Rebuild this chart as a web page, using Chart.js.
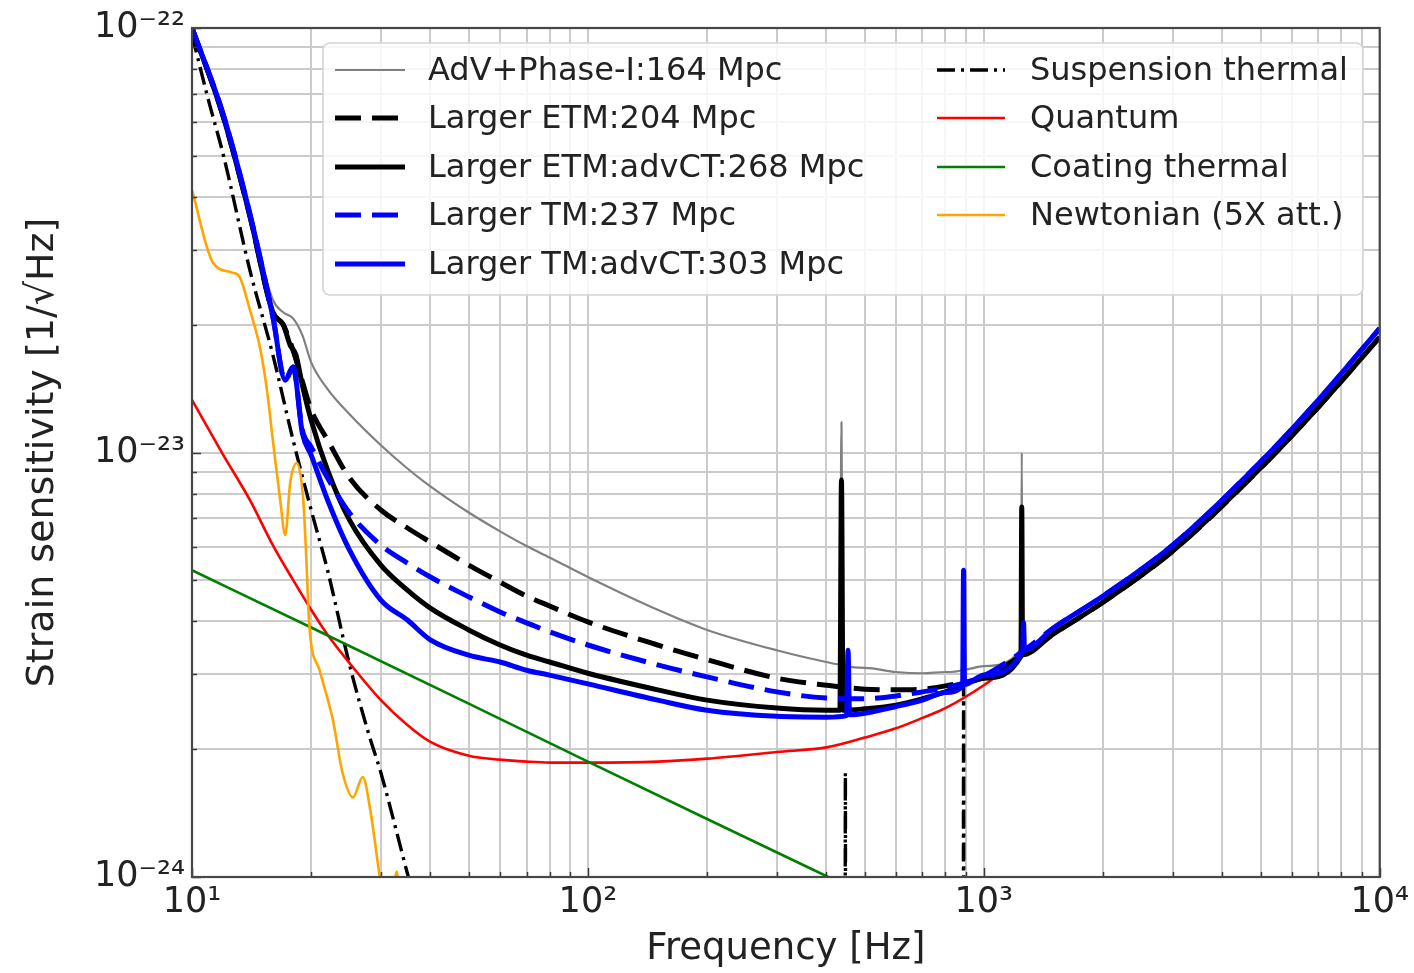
<!DOCTYPE html>
<html>
<head>
<meta charset="utf-8">
<title>Strain sensitivity</title>
<script src="https://cdn.jsdelivr.net/npm/chart.js@4.4.1/dist/chart.umd.min.js"></script>
<style>
html,body{margin:0;padding:0;background:#ffffff;}
#box{position:relative;width:1414px;height:973px;}
canvas{display:block;}
</style>
</head>
<body>
<div id="box"><canvas id="chart" width="1414" height="973"></canvas></div>
<script>
// ---------- text ----------
const seriesLabels = [
  'AdV+Phase-I:164 Mpc', 'Larger ETM:204 Mpc', 'Larger ETM:advCT:268 Mpc',
  'Larger TM:237 Mpc', 'Larger TM:advCT:303 Mpc',
  'Suspension thermal', 'Quantum', 'Coating thermal', 'Newtonian (5X att.)'
];
const xMajorTicks = [10, 100, 1000, 10000];
const xTickLabels = ['10¹', '10²', '10³', '10⁴'];
const yMajorTicks = [1e-24, 1e-23, 1e-22];
const yTickLabels = ['10⁻²⁴', '10⁻²³', '10⁻²²'];
const xTitle = 'Frequency [Hz]';
const yTitle = 'Strain sensitivity [1/√Hz]';

// ---------- data (frequency in Hz, strain in 1/sqrt(Hz)) ----------
const freqAdv = [10, 12, 14, 16, 17, 18, 19, 20, 22, 25, 30, 35, 40, 50, 60, 70, 80, 100, 150, 200, 300, 400, 433, 437, 441, 500, 600, 700, 800, 880, 885, 890, 1000, 1241, 1247, 1253, 1500, 2000, 3000, 5000, 7000, 10000];
const valAdv = [1.00e-22, 6.17e-23, 3.61e-23, 2.29e-23, 2.14e-23, 2.07e-23, 1.89e-23, 1.63e-23, 1.41e-23, 1.23e-23, 1.04e-23, 9.17e-24, 8.32e-24, 7.22e-24, 6.52e-24, 6.02e-24, 5.66e-24, 5.09e-24, 4.26e-24, 3.82e-24, 3.42e-24, 3.21e-24, 3.17e-24, 1.18e-23, 3.16e-24, 3.11e-24, 3.04e-24, 3.02e-24, 3.04e-24, 3.07e-24, 3.62e-24, 3.08e-24, 3.14e-24, 3.44e-24, 1.00e-23, 3.46e-24, 3.76e-24, 4.44e-24, 5.86e-24, 9.19e-24, 1.28e-23, 1.87e-23];

const freqEtm = [10, 12, 14, 16, 17, 18, 19, 20, 22, 25, 30, 35, 40, 50, 60, 70, 80, 100, 150, 200, 300, 400, 500, 600, 700, 800, 1000, 1241, 1500, 2000, 3000, 5000, 7000, 10000];
const valEtm = [1.00e-22, 6.17e-23, 3.61e-23, 2.14e-23, 2.00e-23, 1.74e-23, 1.47e-23, 1.26e-23, 1.07e-23, 8.71e-24, 7.32e-24, 6.64e-24, 6.15e-24, 5.43e-24, 4.95e-24, 4.59e-24, 4.35e-24, 3.99e-24, 3.52e-24, 3.25e-24, 2.94e-24, 2.83e-24, 2.77e-24, 2.76e-24, 2.77e-24, 2.82e-24, 2.95e-24, 3.32e-24, 3.74e-24, 4.44e-24, 5.86e-24, 9.19e-24, 1.28e-23, 1.87e-23];

const freqEtmCT = [10, 12, 14, 16, 17, 17.7, 18.3, 19, 20, 22, 25, 30, 35, 40, 50, 60, 70, 80, 100, 150, 200, 300, 400, 433, 437, 441, 500, 600, 700, 800, 1000, 1241, 1247, 1253, 1500, 2000, 3000, 5000, 7000, 10000];
const valEtmCT = [1.00e-22, 6.17e-23, 3.61e-23, 2.14e-23, 2.00e-23, 1.79e-23, 1.70e-23, 1.44e-23, 1.19e-23, 9.09e-24, 6.93e-24, 5.43e-24, 4.74e-24, 4.30e-24, 3.82e-24, 3.52e-24, 3.33e-24, 3.21e-24, 3.02e-24, 2.76e-24, 2.61e-24, 2.50e-24, 2.47e-24, 2.47e-24, 8.61e-24, 2.47e-24, 2.49e-24, 2.54e-24, 2.63e-24, 2.73e-24, 2.94e-24, 3.31e-24, 7.44e-24, 3.34e-24, 3.74e-24, 4.44e-24, 5.86e-24, 9.19e-24, 1.28e-23, 1.87e-23];

const freqTm = [10, 12, 14, 16, 17.2, 18, 19, 20, 22, 25, 30, 35, 40, 50, 60, 70, 80, 100, 150, 200, 300, 400, 500, 600, 700, 800, 1000, 1253, 1500, 2000, 3000, 5000, 7000, 10000];
const valTm = [1.00e-22, 6.24e-23, 3.65e-23, 2.09e-23, 1.48e-23, 1.59e-23, 1.13e-23, 1.03e-23, 8.71e-24, 7.20e-24, 6.05e-24, 5.49e-24, 5.09e-24, 4.57e-24, 4.21e-24, 3.97e-24, 3.78e-24, 3.52e-24, 3.16e-24, 2.96e-24, 2.73e-24, 2.64e-24, 2.63e-24, 2.67e-24, 2.73e-24, 2.79e-24, 2.98e-24, 3.40e-24, 3.86e-24, 4.59e-24, 6.05e-24, 9.50e-24, 1.33e-23, 1.96e-23];

const freqTmCT = [10, 12, 14, 16, 17.2, 18, 19, 20, 22, 25, 30, 35, 40, 50, 60, 70, 80, 100, 150, 200, 300, 400, 450, 454, 458, 500, 600, 700, 800, 884, 889, 894, 1000, 1253, 1260, 1267, 1500, 2000, 3000, 5000, 7000, 10000];
const valTmCT = [1.00e-22, 6.24e-23, 3.65e-23, 2.09e-23, 1.48e-23, 1.59e-23, 1.11e-23, 9.86e-24, 7.73e-24, 5.89e-24, 4.49e-24, 4.03e-24, 3.62e-24, 3.33e-24, 3.21e-24, 3.07e-24, 2.99e-24, 2.85e-24, 2.61e-24, 2.47e-24, 2.39e-24, 2.38e-24, 2.40e-24, 3.42e-24, 2.41e-24, 2.43e-24, 2.52e-24, 2.61e-24, 2.72e-24, 2.82e-24, 5.28e-24, 2.84e-24, 2.99e-24, 3.40e-24, 3.97e-24, 3.43e-24, 3.86e-24, 4.59e-24, 6.05e-24, 9.50e-24, 1.33e-23, 1.96e-23];

const freqSusp = [10, 11, 12, 14, 16, 18, 20, 22, 25, 28, 30, 33, 35, 37, 60, 200, 446, 447, 448, 887, 889, 891, 2000, 10000];
const valSusp = [9.63e-23, 6.77e-23, 5.02e-23, 2.69e-23, 1.70e-23, 1.07e-23, 7.32e-24, 5.28e-24, 3.16e-24, 2.16e-24, 1.76e-24, 1.26e-24, 1.02e-24, 8.6e-25, 2.0e-25, 5.0e-26, 2.0e-25, 1.76e-24, 2.0e-25, 2.0e-25, 2.80e-24, 2.0e-25, 5.0e-26, 5.0e-27];

const freqQuantum = [10, 12, 14, 16, 18, 20, 22, 25, 30, 35, 40, 50, 60, 70, 80, 100, 150, 200, 300, 400, 500, 600, 700, 800, 1000, 1241, 1500, 2000, 3000, 5000, 7000, 10000];
const valQuantum = [1.33e-23, 9.86e-24, 7.73e-24, 6.05e-24, 5.01e-24, 4.26e-24, 3.72e-24, 3.19e-24, 2.61e-24, 2.28e-24, 2.08e-24, 1.93e-24, 1.89e-24, 1.87e-24, 1.86e-24, 1.86e-24, 1.87e-24, 1.90e-24, 1.97e-24, 2.02e-24, 2.13e-24, 2.24e-24, 2.37e-24, 2.50e-24, 2.83e-24, 3.29e-24, 3.74e-24, 4.44e-24, 5.86e-24, 9.19e-24, 1.28e-23, 1.87e-23];

const freqCoating = [10, 20, 50, 100, 200, 500];
const valCoating = [5.28e-24, 3.87e-24, 2.56e-24, 1.87e-24, 1.37e-24, 9.1e-25];

const freqNewton = [10, 11.3, 12.7, 13.2, 14.0, 14.9, 15.5, 16.0, 16.7, 17.2, 17.7, 18.4, 19.1, 19.4, 19.8, 21.0, 22.7, 24.0, 25.5, 27.0, 28.2, 29.8, 31.0, 32.3, 32.9, 33.6, 35.5];
const valNewton = [4.15e-23, 2.80e-23, 2.65e-23, 2.59e-23, 2.17e-23, 1.74e-23, 1.38e-23, 1.07e-23, 7.73e-24, 6.39e-24, 8.48e-24, 9.45e-24, 7.73e-24, 5.89e-24, 3.88e-24, 3.07e-24, 2.34e-24, 1.76e-24, 1.54e-24, 1.72e-24, 1.44e-24, 1.00e-24, 8.0e-25, 9.5e-25, 1.03e-24, 8.0e-25, 6.0e-25];

// ---------- build ----------
const FONT = "'DejaVu Sans', 'Liberation Sans', sans-serif";
const pts = (fs, vs) => fs.map((f, i) => ({ x: f, y: vs[i] }));
const seriesData = [
  pts(freqAdv, valAdv), pts(freqEtm, valEtm), pts(freqEtmCT, valEtmCT),
  pts(freqTm, valTm), pts(freqTmCT, valTmCT),
  pts(freqSusp, valSusp), pts(freqQuantum, valQuantum),
  pts(freqCoating, valCoating), pts(freqNewton, valNewton)
];
const seriesStyle = [
  { color: '#808080', width: 2.2, dash: [], order: 4 },
  { color: '#000000', width: 5, dash: [26, 11], order: 3 },
  { color: '#000000', width: 5, dash: [], order: 2 },
  { color: '#0000ff', width: 5, dash: [26, 11], order: 1 },
  { color: '#0000ff', width: 5, dash: [], order: 0 },
  { color: '#000000', width: 3.4, dash: [18, 6, 3, 6], order: 8 },
  { color: '#ff0000', width: 2.6, dash: [], order: 7 },
  { color: '#008000', width: 2.6, dash: [], order: 6 },
  { color: '#ffa500', width: 2.6, dash: [], order: 5 }
];
const datasets = seriesData.map((d, i) => ({
  label: seriesLabels[i],
  data: d,
  borderColor: seriesStyle[i].color,
  backgroundColor: seriesStyle[i].color,
  borderWidth: seriesStyle[i].width,
  borderDash: seriesStyle[i].dash,
  order: seriesStyle[i].order,
  pointRadius: 0,
  fill: false,
  cubicInterpolationMode: 'monotone',
  borderCapStyle: 'butt',
  borderJoinStyle: 'round'
}));

function isPow10(v) { const l = Math.log10(v); return Math.abs(l - Math.round(l)) < 1e-6; }
function decadeTicks(lo, hi) {
  const out = [];
  for (let e = lo; e < hi; e++) for (let k = 1; k <= 9; k++) out.push(k * Math.pow(10, e));
  out.push(Math.pow(10, hi));
  return out;
}
const xAllTicks = decadeTicks(1, 4);
const yAllTicks = decadeTicks(-24, -22);
function labelOf(v, majors, labels) {
  if (!isPow10(v)) return '';
  const e = Math.round(Math.log10(v));
  const idx = majors.findIndex(m => Math.round(Math.log10(m)) === e);
  return idx >= 0 ? labels[idx] : '';
}

const frameTicks = {
  id: 'frameTicks',
  afterDatasetsDraw(chart) {
    const { ctx, chartArea: a, scales } = chart;
    ctx.save();
    ctx.strokeStyle = '#3a3a3a';
    ctx.lineWidth = 1.5;
    scales.x.ticks.forEach(t => {
      const px = Math.round(scales.x.getPixelForValue(t.value)) + 0.5;
      const L = isPow10(t.value) ? 9 : 5;
      ctx.beginPath(); ctx.moveTo(px, a.bottom); ctx.lineTo(px, a.bottom - L); ctx.stroke();
    });
    scales.y.ticks.forEach(t => {
      const py = Math.round(scales.y.getPixelForValue(t.value)) + 0.5;
      const L = isPow10(t.value) ? 9 : 5;
      ctx.beginPath(); ctx.moveTo(a.left, py); ctx.lineTo(a.left + L, py); ctx.stroke();
    });
    ctx.strokeStyle = '#474747';
    ctx.lineWidth = 2.2;
    ctx.strokeRect(a.left, a.top, a.right - a.left, a.bottom - a.top);
    ctx.restore();
  }
};

const legendBox = {
  id: 'legendBox',
  afterDraw(chart) {
    const { ctx } = chart;
    const box = { x: 323, y: 43, w: 1040, h: 252 };
    const cols = [{ hx: 335, hw: 70, tx: 428 }, { hx: 937, hw: 68, tx: 1030 }];
    const rows = [70, 118, 167, 215, 264];
    ctx.save();
    ctx.beginPath();
    ctx.roundRect(box.x, box.y, box.w, box.h, 7);
    ctx.fillStyle = 'rgba(255,255,255,0.82)';
    ctx.fill();
    ctx.strokeStyle = '#d4d4d4';
    ctx.lineWidth = 1.6;
    ctx.stroke();
    ctx.font = '32px ' + FONT;
    ctx.textBaseline = 'middle';
    ctx.textAlign = 'left';
    chart.data.datasets.forEach((ds, i) => {
      const c = cols[i < 5 ? 0 : 1];
      const ry = rows[i < 5 ? i : i - 5];
      ctx.beginPath();
      ctx.setLineDash(ds.borderDash || []);
      ctx.lineDashOffset = 0;
      ctx.strokeStyle = ds.borderColor;
      ctx.lineWidth = ds.borderWidth;
      ctx.lineCap = 'butt';
      ctx.moveTo(c.hx, ry);
      ctx.lineTo(c.hx + c.hw, ry);
      ctx.stroke();
      ctx.setLineDash([]);
      ctx.fillStyle = '#222222';
      ctx.fillText(ds.label, c.tx, ry + 2);
    });
    ctx.restore();
  }
};

new Chart(document.getElementById('chart'), {
  type: 'line',
  data: { datasets },
  options: {
    responsive: false,
    animation: false,
    devicePixelRatio: 1,
    layout: { padding: { left: 0, right: 34, top: 28, bottom: 0 } },
    plugins: { legend: { display: false }, tooltip: { enabled: false } },
    scales: {
      x: {
        type: 'logarithmic', min: 10, max: 10000,
        afterBuildTicks: s => { s.ticks = xAllTicks.map(v => ({ value: v })); },
        afterFit: s => { s.height = 96; },
        ticks: {
          autoSkip: false, maxRotation: 0, minRotation: 0, padding: 5,
          color: '#222222', font: { family: FONT, size: 35 },
          callback: v => labelOf(v, xMajorTicks, xTickLabels)
        },
        grid: { color: '#cbcbcb', lineWidth: 2, drawTicks: false },
        border: { display: false },
        title: { display: true, text: xTitle, color: '#222222', font: { family: FONT, size: 37 }, padding: { top: 0, bottom: 1 } }
      },
      y: {
        type: 'logarithmic', min: 1e-24, max: 1e-22,
        afterBuildTicks: s => { s.ticks = yAllTicks.map(v => ({ value: v })); },
        afterFit: s => { s.width = 192; },
        ticks: {
          autoSkip: false, padding: 7,
          color: '#222222', font: { family: FONT, size: 35 },
          callback: v => labelOf(v, yMajorTicks, yTickLabels)
        },
        grid: { color: '#cbcbcb', lineWidth: 2, drawTicks: false },
        border: { display: false },
        title: { display: true, text: yTitle, color: '#222222', font: { family: FONT, size: 38 }, padding: { top: 20, bottom: 0 } }
      }
    }
  },
  plugins: [frameTicks, legendBox]
});
</script>
</body>
</html>
